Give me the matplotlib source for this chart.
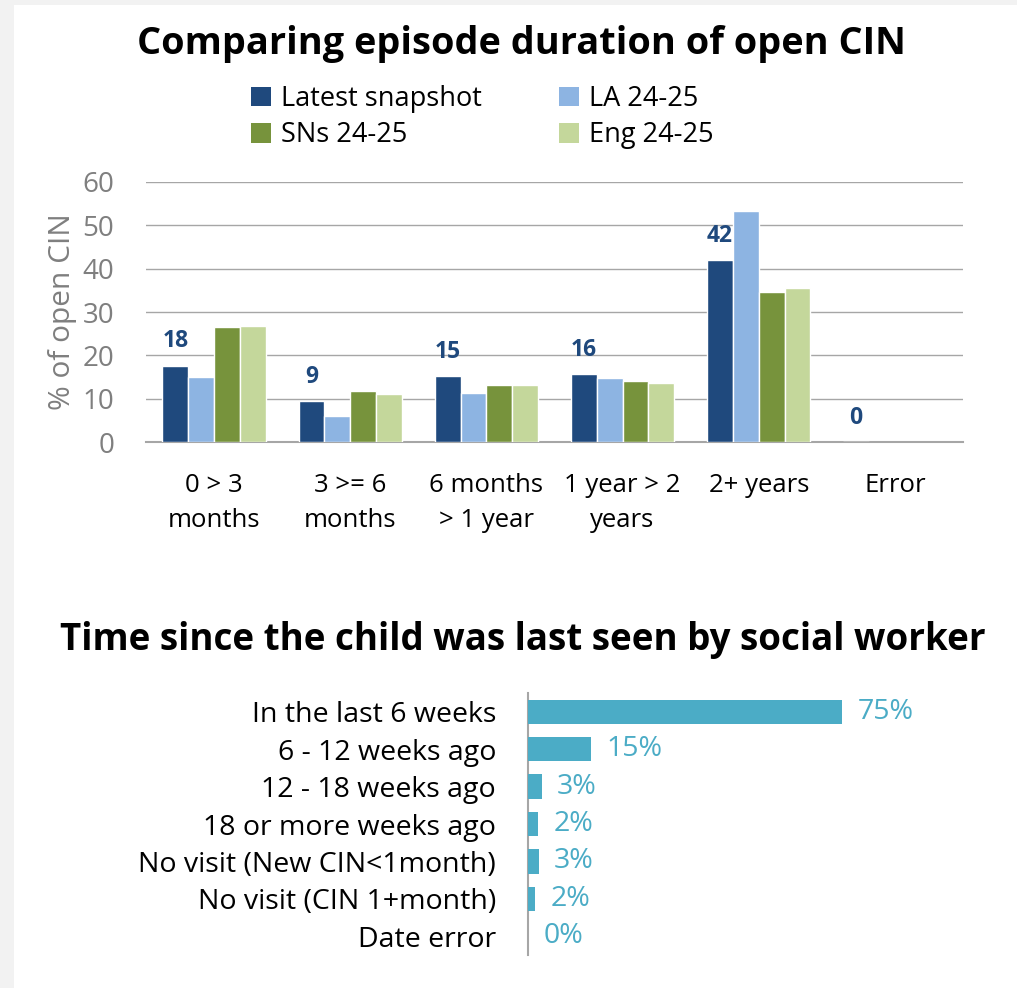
import matplotlib
matplotlib.use("Agg")
import matplotlib.pyplot as plt
import numpy as np
from matplotlib.patches import Rectangle, Patch

plt.rcParams['font.family'] = ['Open Sans', 'DejaVu Sans']

# ---------------- data ----------------
categories = ["0 > 3\nmonths", "3 >= 6\nmonths", "6 months\n> 1 year", "1 year > 2\nyears", "2+ years", "Error"]
series_names = ["Latest snapshot", "LA 24-25", "SNs 24-25", "Eng 24-25"]
latest = [17.6, 9.4, 15.2, 15.6, 42.0, 0.0]
la = [14.9, 5.9, 11.2, 14.7, 53.3, np.nan]
sns_ = [26.5, 11.7, 13.1, 14.0, 34.6, np.nan]
eng = [26.8, 11.0, 13.1, 13.7, 35.6, np.nan]
series_colors = ["#1F497D", "#8DB4E2", "#77933C", "#C4D79B"]

visit_cats = ["In the last 6 weeks", "6 - 12 weeks ago", "12 - 18 weeks ago", "18 or more weeks ago",
              "No visit (New CIN<1month)", "No visit (CIN 1+month)", "Date error"]
visit_vals = [75.0, 15.0, 3.3, 2.4, 2.6, 1.7, 0.0]
visit_color = "#4BACC6"

# ---------------- figure ----------------
W, H = 1017, 988
fig = plt.figure(figsize=(W / 100, H / 100), dpi=100)
fig.patch.set_facecolor("#F2F2F2")
fig.patches.append(Rectangle((14 / W, 0), 1 - 14 / W, 1 - 5 / H, transform=fig.transFigure,
                             facecolor="white", edgecolor="none", zorder=-10))

def fx(px):
    return px / W

def fy(py):
    return 1 - py / H

# ---------------- top chart ----------------
ax = fig.add_axes([fx(146), fy(442), fx(963) - fx(146), fy(182) - fy(442)])
ax.set_facecolor("none")
x = np.arange(len(categories))
bw = 0.19
all_series = [latest, la, sns_, eng]
for i, (vals, col, name) in enumerate(zip(all_series, series_colors, series_names)):
    ax.bar(x + (i - 1.5) * bw, vals, width=bw, color=col, edgecolor="white", linewidth=1.0,
           label=name, zorder=3)

for xi, v in zip(x, latest):
    ax.annotate(f"{v:.0f}", (xi - 1.5 * bw, v), xytext=(0, 9), textcoords="offset points",
                ha="center", va="bottom", fontsize=16.5, fontweight="bold", color="#1F497D")

ax.set_ylim(0, 60)
ax.set_xlim(-0.5, len(categories) - 0.5)
ax.set_yticks(np.arange(0, 61, 10))
ax.yaxis.grid(True, color="#A6A6A6", linewidth=1.0, zorder=0)
ax.set_axisbelow(True)
for s in ["top", "right", "left"]:
    ax.spines[s].set_visible(False)
ax.spines["bottom"].set_color("#A6A6A6")
ax.spines["bottom"].set_linewidth(1.5)
ax.tick_params(axis="y", length=0, labelsize=20, labelcolor="#7F7F7F", pad=23)
ax.tick_params(axis="x", length=0, labelsize=18.5, labelcolor="black", pad=22)
ax.set_xticks(x)
ax.set_xticklabels(categories, linespacing=1.55)
ax.set_ylabel("% of open CIN", fontsize=21.5, color="#7F7F7F", labelpad=4)

fig.text(fx(521), fy(44), "Comparing episode duration of open CIN", ha="center", va="center",
         fontsize=27.3, fontweight="bold", color="black")

handles = [Patch(facecolor=c, edgecolor="none") for c in series_colors]
order = [0, 2, 1, 3]
fig.legend([handles[i] for i in order], [series_names[i] for i in order], ncol=2, loc="center",
           bbox_to_anchor=(fx(482), fy(117)),
           frameon=False, fontsize=19.5, handlelength=0.75, handleheight=0.75, handletextpad=0.35,
           columnspacing=2.85, labelspacing=0.3, borderpad=0)

# ---------------- bottom chart ----------------
fig.text(fx(523), fy(640), "Time since the child was last seen by social worker", ha="center",
         va="center", fontsize=26.5, fontweight="bold", color="black")

ax2 = fig.add_axes([fx(528), fy(955), fx(947) - fx(528), fy(693) - fy(955)])
ax2.set_facecolor("none")
y = np.arange(len(visit_cats))
ax2.barh(y, visit_vals, height=0.65, color=visit_color, zorder=3)
ax2.set_ylim(len(visit_cats) - 0.5, -0.5)
ax2.set_xlim(0, 100)
for yi, v in zip(y, visit_vals):
    ax2.annotate(f"{v:.0f}%", (v, yi), xytext=(11, 0), textcoords="offset points",
                 ha="left", va="center", fontsize=20.5, color=visit_color)
for s in ["top", "right", "bottom"]:
    ax2.spines[s].set_visible(False)
ax2.spines["left"].set_color("#A6A6A6")
ax2.spines["left"].set_linewidth(1.5)
ax2.set_xticks([])
ax2.set_yticks(y)
ax2.set_yticklabels(visit_cats)
ax2.tick_params(axis="y", length=0, labelsize=20.5, labelcolor="black", pad=23)

fig.savefig("out.png", dpi=100, facecolor=fig.get_facecolor())
